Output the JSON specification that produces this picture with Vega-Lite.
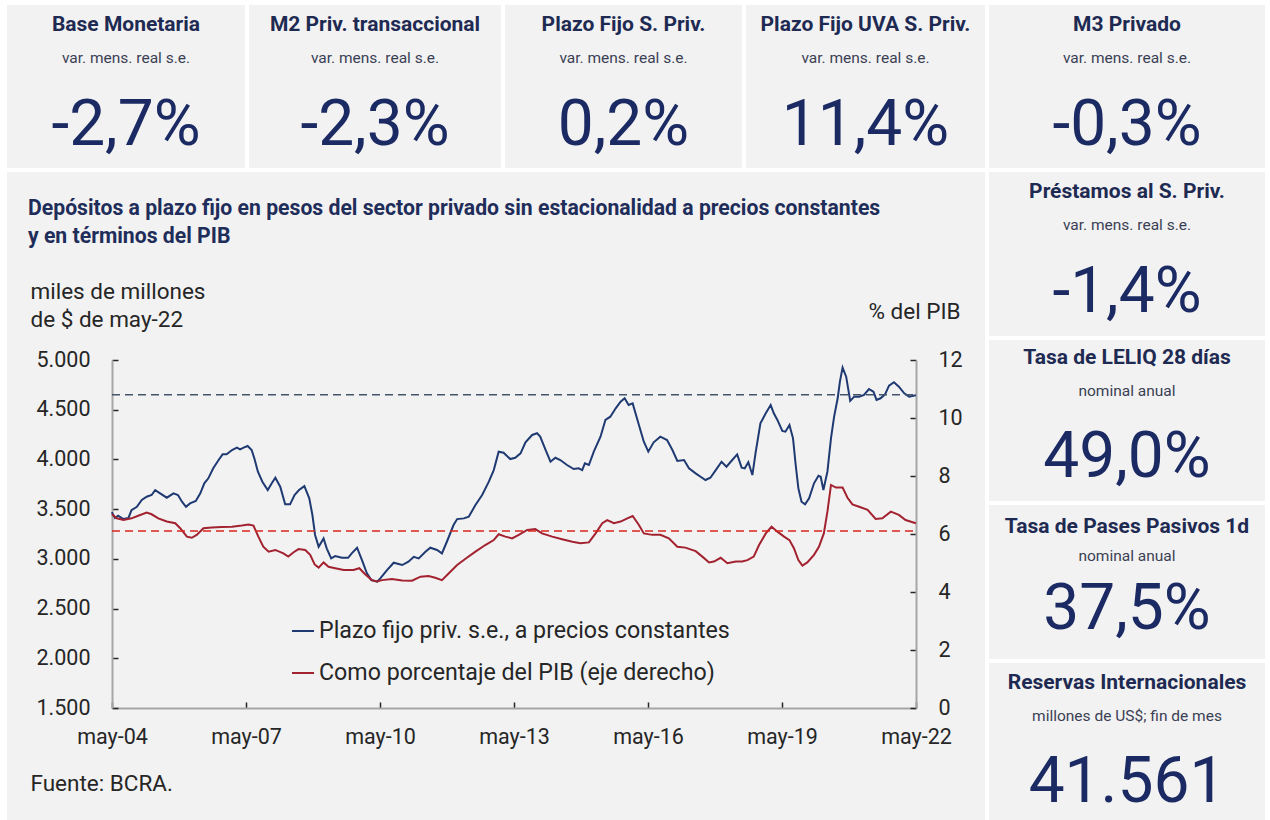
{
"$schema": "https://vega.github.io/schema/vega-lite/v6.json",
"background": "#ffffff",
"padding": {"left": 7, "top": 5, "right": 0, "bottom": 0},
"spacing": 4,
"config": {
  "font": "Roboto",
  "view": {"fill": "#f2f2f2", "stroke": null},
  "locale": {"number": {"decimal": ",", "thousands": ".", "grouping": [3], "currency": ["$", ""]}}
},
"datasets": {
  "pf": [
{"fecha":2004.33,"valor":3470},{"fecha":2004.40,"valor":3410},{"fecha":2004.47,"valor":3434},{"fecha":2004.59,"valor":3400},{"fecha":2004.70,"valor":3410},{"fecha":2004.77,"valor":3490},{"fecha":2004.89,"valor":3524},{"fecha":2005.00,"valor":3592},{"fecha":2005.11,"valor":3625},{"fecha":2005.22,"valor":3642},{"fecha":2005.30,"valor":3692},{"fecha":2005.41,"valor":3659},{"fecha":2005.56,"valor":3615},{"fecha":2005.71,"valor":3659},{"fecha":2005.81,"valor":3642},{"fecha":2005.90,"valor":3575},{"fecha":2005.99,"valor":3524},{"fecha":2006.08,"valor":3558},{"fecha":2006.21,"valor":3582},{"fecha":2006.31,"valor":3659},{"fecha":2006.40,"valor":3760},{"fecha":2006.49,"valor":3810},{"fecha":2006.60,"valor":3911},{"fecha":2006.72,"valor":3994},{"fecha":2006.81,"valor":4051},{"fecha":2006.90,"valor":4051},{"fecha":2007.02,"valor":4095},{"fecha":2007.13,"valor":4118},{"fecha":2007.20,"valor":4101},{"fecha":2007.28,"valor":4118},{"fecha":2007.37,"valor":4135},{"fecha":2007.46,"valor":4095},{"fecha":2007.52,"valor":4011},{"fecha":2007.60,"valor":3877},{"fecha":2007.70,"valor":3776},{"fecha":2007.82,"valor":3692},{"fecha":2007.91,"valor":3760},{"fecha":2007.99,"valor":3816},{"fecha":2008.10,"valor":3726},{"fecha":2008.21,"valor":3548},{"fecha":2008.32,"valor":3548},{"fecha":2008.42,"valor":3642},{"fecha":2008.52,"valor":3692},{"fecha":2008.64,"valor":3732},{"fecha":2008.75,"valor":3609},{"fecha":2008.82,"valor":3441},{"fecha":2008.88,"valor":3240},{"fecha":2008.96,"valor":3122},{"fecha":2009.07,"valor":3206},{"fecha":2009.14,"valor":3106},{"fecha":2009.24,"valor":3005},{"fecha":2009.33,"valor":3028},{"fecha":2009.48,"valor":3011},{"fecha":2009.62,"valor":3011},{"fecha":2009.70,"valor":3055},{"fecha":2009.82,"valor":3112},{"fecha":2009.93,"valor":2988},{"fecha":2010.04,"valor":2854},{"fecha":2010.14,"valor":2787},{"fecha":2010.27,"valor":2770},{"fecha":2010.34,"valor":2804},{"fecha":2010.49,"valor":2887},{"fecha":2010.64,"valor":2961},{"fecha":2010.83,"valor":2938},{"fecha":2010.97,"valor":2971},{"fecha":2011.09,"valor":3021},{"fecha":2011.20,"valor":3005},{"fecha":2011.35,"valor":3072},{"fecha":2011.46,"valor":3112},{"fecha":2011.61,"valor":3089},{"fecha":2011.72,"valor":3055},{"fecha":2011.83,"valor":3172},{"fecha":2011.98,"valor":3340},{"fecha":2012.06,"valor":3400},{"fecha":2012.21,"valor":3407},{"fecha":2012.32,"valor":3424},{"fecha":2012.47,"valor":3541},{"fecha":2012.62,"valor":3642},{"fecha":2012.77,"valor":3776},{"fecha":2012.88,"valor":3893},{"fecha":2012.99,"valor":4078},{"fecha":2013.10,"valor":4068},{"fecha":2013.25,"valor":4004},{"fecha":2013.36,"valor":4017},{"fecha":2013.48,"valor":4061},{"fecha":2013.59,"valor":4172},{"fecha":2013.74,"valor":4246},{"fecha":2013.85,"valor":4263},{"fecha":2013.92,"valor":4229},{"fecha":2014.04,"valor":4095},{"fecha":2014.15,"valor":3977},{"fecha":2014.26,"valor":4017},{"fecha":2014.37,"valor":3994},{"fecha":2014.52,"valor":3944},{"fecha":2014.67,"valor":3903},{"fecha":2014.78,"valor":3911},{"fecha":2014.86,"valor":3893},{"fecha":2014.92,"valor":3961},{"fecha":2015.01,"valor":3944},{"fecha":2015.12,"valor":4078},{"fecha":2015.27,"valor":4229},{"fecha":2015.38,"valor":4397},{"fecha":2015.49,"valor":4430},{"fecha":2015.61,"valor":4514},{"fecha":2015.72,"valor":4581},{"fecha":2015.81,"valor":4615},{"fecha":2015.90,"valor":4547},{"fecha":2015.99,"valor":4564},{"fecha":2016.13,"valor":4346},{"fecha":2016.24,"valor":4178},{"fecha":2016.34,"valor":4078},{"fecha":2016.46,"valor":4172},{"fecha":2016.61,"valor":4229},{"fecha":2016.76,"valor":4195},{"fecha":2016.88,"valor":4095},{"fecha":2016.99,"valor":3984},{"fecha":2017.14,"valor":3994},{"fecha":2017.25,"valor":3911},{"fecha":2017.40,"valor":3860},{"fecha":2017.51,"valor":3826},{"fecha":2017.62,"valor":3793},{"fecha":2017.73,"valor":3816},{"fecha":2017.85,"valor":3893},{"fecha":2017.98,"valor":3977},{"fecha":2018.09,"valor":3927},{"fecha":2018.20,"valor":3984},{"fecha":2018.33,"valor":4051},{"fecha":2018.43,"valor":3917},{"fecha":2018.50,"valor":3910},{"fecha":2018.58,"valor":3971},{"fecha":2018.67,"valor":3843},{"fecha":2018.74,"valor":4061},{"fecha":2018.85,"valor":4363},{"fecha":2018.97,"valor":4464},{"fecha":2019.08,"valor":4547},{"fecha":2019.15,"valor":4464},{"fecha":2019.23,"valor":4397},{"fecha":2019.34,"valor":4286},{"fecha":2019.41,"valor":4279},{"fecha":2019.50,"valor":4346},{"fecha":2019.58,"valor":4212},{"fecha":2019.64,"valor":3944},{"fecha":2019.70,"valor":3709},{"fecha":2019.77,"valor":3575},{"fecha":2019.85,"valor":3548},{"fecha":2019.94,"valor":3609},{"fecha":2020.05,"valor":3760},{"fecha":2020.15,"valor":3836},{"fecha":2020.20,"valor":3826},{"fecha":2020.26,"valor":3692},{"fecha":2020.35,"valor":3877},{"fecha":2020.43,"valor":4212},{"fecha":2020.50,"valor":4430},{"fecha":2020.58,"valor":4615},{"fecha":2020.63,"valor":4782},{"fecha":2020.69,"valor":4923},{"fecha":2020.77,"valor":4832},{"fecha":2020.86,"valor":4588},{"fecha":2020.95,"valor":4631},{"fecha":2021.06,"valor":4631},{"fecha":2021.17,"valor":4648},{"fecha":2021.28,"valor":4708},{"fecha":2021.38,"valor":4681},{"fecha":2021.45,"valor":4598},{"fecha":2021.54,"valor":4615},{"fecha":2021.64,"valor":4655},{"fecha":2021.73,"valor":4742},{"fecha":2021.84,"valor":4776},{"fecha":2021.95,"valor":4732},{"fecha":2022.07,"valor":4665},{"fecha":2022.18,"valor":4631},{"fecha":2022.33,"valor":4645}
  ],
  "pib": [
{"fecha":2004.33,"pct":6.68},{"fecha":2004.44,"pct":6.54},{"fecha":2004.59,"pct":6.48},{"fecha":2004.77,"pct":6.54},{"fecha":2004.92,"pct":6.63},{"fecha":2005.11,"pct":6.74},{"fecha":2005.22,"pct":6.68},{"fecha":2005.37,"pct":6.54},{"fecha":2005.56,"pct":6.43},{"fecha":2005.75,"pct":6.37},{"fecha":2005.86,"pct":6.20},{"fecha":2006.01,"pct":5.91},{"fecha":2006.12,"pct":5.87},{"fecha":2006.23,"pct":5.97},{"fecha":2006.38,"pct":6.20},{"fecha":2006.57,"pct":6.22},{"fecha":2006.79,"pct":6.24},{"fecha":2007.02,"pct":6.25},{"fecha":2007.24,"pct":6.29},{"fecha":2007.39,"pct":6.33},{"fecha":2007.50,"pct":6.29},{"fecha":2007.61,"pct":5.91},{"fecha":2007.72,"pct":5.56},{"fecha":2007.84,"pct":5.39},{"fecha":2007.99,"pct":5.45},{"fecha":2008.17,"pct":5.33},{"fecha":2008.28,"pct":5.22},{"fecha":2008.40,"pct":5.37},{"fecha":2008.51,"pct":5.48},{"fecha":2008.66,"pct":5.45},{"fecha":2008.77,"pct":5.28},{"fecha":2008.87,"pct":4.95},{"fecha":2008.96,"pct":4.84},{"fecha":2009.07,"pct":5.02},{"fecha":2009.18,"pct":4.87},{"fecha":2009.33,"pct":4.82},{"fecha":2009.52,"pct":4.76},{"fecha":2009.74,"pct":4.76},{"fecha":2009.87,"pct":4.82},{"fecha":2010.00,"pct":4.61},{"fecha":2010.15,"pct":4.41},{"fecha":2010.27,"pct":4.36},{"fecha":2010.38,"pct":4.41},{"fecha":2010.60,"pct":4.45},{"fecha":2010.83,"pct":4.40},{"fecha":2011.05,"pct":4.39},{"fecha":2011.24,"pct":4.53},{"fecha":2011.42,"pct":4.55},{"fecha":2011.57,"pct":4.49},{"fecha":2011.72,"pct":4.41},{"fecha":2011.87,"pct":4.64},{"fecha":2012.06,"pct":4.93},{"fecha":2012.24,"pct":5.14},{"fecha":2012.47,"pct":5.39},{"fecha":2012.69,"pct":5.62},{"fecha":2012.88,"pct":5.79},{"fecha":2012.99,"pct":5.99},{"fecha":2013.14,"pct":5.91},{"fecha":2013.29,"pct":5.85},{"fecha":2013.44,"pct":5.97},{"fecha":2013.63,"pct":6.14},{"fecha":2013.81,"pct":6.17},{"fecha":2013.96,"pct":6.02},{"fecha":2014.19,"pct":5.91},{"fecha":2014.41,"pct":5.82},{"fecha":2014.64,"pct":5.73},{"fecha":2014.82,"pct":5.68},{"fecha":2015.01,"pct":5.71},{"fecha":2015.16,"pct":6.02},{"fecha":2015.31,"pct":6.37},{"fecha":2015.42,"pct":6.48},{"fecha":2015.57,"pct":6.37},{"fecha":2015.72,"pct":6.43},{"fecha":2015.87,"pct":6.54},{"fecha":2015.99,"pct":6.62},{"fecha":2016.13,"pct":6.31},{"fecha":2016.24,"pct":6.02},{"fecha":2016.43,"pct":5.97},{"fecha":2016.61,"pct":5.97},{"fecha":2016.80,"pct":5.85},{"fecha":2016.99,"pct":5.56},{"fecha":2017.17,"pct":5.53},{"fecha":2017.40,"pct":5.41},{"fecha":2017.55,"pct":5.22},{"fecha":2017.70,"pct":5.02},{"fecha":2017.81,"pct":5.05},{"fecha":2017.96,"pct":5.18},{"fecha":2018.11,"pct":4.99},{"fecha":2018.30,"pct":5.05},{"fecha":2018.44,"pct":5.05},{"fecha":2018.56,"pct":5.10},{"fecha":2018.70,"pct":5.22},{"fecha":2018.82,"pct":5.62},{"fecha":2018.97,"pct":6.02},{"fecha":2019.10,"pct":6.25},{"fecha":2019.23,"pct":6.08},{"fecha":2019.38,"pct":5.91},{"fecha":2019.50,"pct":5.79},{"fecha":2019.60,"pct":5.51},{"fecha":2019.70,"pct":5.10},{"fecha":2019.79,"pct":4.91},{"fecha":2019.90,"pct":5.02},{"fecha":2020.05,"pct":5.28},{"fecha":2020.16,"pct":5.56},{"fecha":2020.27,"pct":6.02},{"fecha":2020.35,"pct":6.77},{"fecha":2020.43,"pct":7.69},{"fecha":2020.54,"pct":7.60},{"fecha":2020.69,"pct":7.60},{"fecha":2020.80,"pct":7.25},{"fecha":2020.91,"pct":7.02},{"fecha":2021.06,"pct":6.94},{"fecha":2021.25,"pct":6.83},{"fecha":2021.43,"pct":6.52},{"fecha":2021.58,"pct":6.54},{"fecha":2021.77,"pct":6.77},{"fecha":2021.95,"pct":6.66},{"fecha":2022.10,"pct":6.48},{"fecha":2022.33,"pct":6.37}
  ]
},
"vconcat": [
  {"spacing": 4, "hconcat": [
    {"width": 238, "height": 163, "data": {"values": [{"titulo": "Base Monetaria", "detalle": "var. mens. real s.e.", "valor": "-2,7%"}]},
     "layer": [
      {"mark": {"type": "rect", "color": "#f2f2f2"}, "encoding": {}},
      {"mark": {"type": "text", "fontWeight": "bold", "fontSize": 21, "color": "#1e2a52", "baseline": "alphabetic", "dy": -56}, "encoding": {"text": {"field": "titulo"}}},
      {"mark": {"type": "text", "fontSize": 15.5, "color": "#3b3f55", "baseline": "alphabetic", "dy": -24}, "encoding": {"text": {"field": "detalle"}}},
      {"mark": {"type": "text", "fontSize": 64, "color": "#1b2a63", "baseline": "alphabetic", "dy": 58.5}, "encoding": {"text": {"field": "valor"}}}]},
    {"width": 252, "height": 163, "data": {"values": [{"titulo": "M2 Priv. transaccional", "detalle": "var. mens. real s.e.", "valor": "-2,3%"}]},
     "layer": [
      {"mark": {"type": "rect", "color": "#f2f2f2"}, "encoding": {}},
      {"mark": {"type": "text", "fontWeight": "bold", "fontSize": 21, "color": "#1e2a52", "baseline": "alphabetic", "dy": -56}, "encoding": {"text": {"field": "titulo"}}},
      {"mark": {"type": "text", "fontSize": 15.5, "color": "#3b3f55", "baseline": "alphabetic", "dy": -24}, "encoding": {"text": {"field": "detalle"}}},
      {"mark": {"type": "text", "fontSize": 64, "color": "#1b2a63", "baseline": "alphabetic", "dy": 58.5}, "encoding": {"text": {"field": "valor"}}}]},
    {"width": 237, "height": 163, "data": {"values": [{"titulo": "Plazo Fijo S. Priv.", "detalle": "var. mens. real s.e.", "valor": "0,2%"}]},
     "layer": [
      {"mark": {"type": "rect", "color": "#f2f2f2"}, "encoding": {}},
      {"mark": {"type": "text", "fontWeight": "bold", "fontSize": 21, "color": "#1e2a52", "baseline": "alphabetic", "dy": -56}, "encoding": {"text": {"field": "titulo"}}},
      {"mark": {"type": "text", "fontSize": 15.5, "color": "#3b3f55", "baseline": "alphabetic", "dy": -24}, "encoding": {"text": {"field": "detalle"}}},
      {"mark": {"type": "text", "fontSize": 64, "color": "#1b2a63", "baseline": "alphabetic", "dy": 58.5}, "encoding": {"text": {"field": "valor"}}}]},
    {"width": 239, "height": 163, "data": {"values": [{"titulo": "Plazo Fijo UVA S. Priv.", "detalle": "var. mens. real s.e.", "valor": "11,4%"}]},
     "layer": [
      {"mark": {"type": "rect", "color": "#f2f2f2"}, "encoding": {}},
      {"mark": {"type": "text", "fontWeight": "bold", "fontSize": 21, "color": "#1e2a52", "baseline": "alphabetic", "dy": -56}, "encoding": {"text": {"field": "titulo"}}},
      {"mark": {"type": "text", "fontSize": 15.5, "color": "#3b3f55", "baseline": "alphabetic", "dy": -24}, "encoding": {"text": {"field": "detalle"}}},
      {"mark": {"type": "text", "fontSize": 64, "color": "#1b2a63", "baseline": "alphabetic", "dy": 58.5}, "encoding": {"text": {"field": "valor"}}}]},
    {"width": 276, "height": 163, "data": {"values": [{"titulo": "M3 Privado", "detalle": "var. mens. real s.e.", "valor": "-0,3%"}]},
     "layer": [
      {"mark": {"type": "rect", "color": "#f2f2f2"}, "encoding": {}},
      {"mark": {"type": "text", "fontWeight": "bold", "fontSize": 21, "color": "#1e2a52", "baseline": "alphabetic", "dy": -56}, "encoding": {"text": {"field": "titulo"}}},
      {"mark": {"type": "text", "fontSize": 15.5, "color": "#3b3f55", "baseline": "alphabetic", "dy": -24}, "encoding": {"text": {"field": "detalle"}}},
      {"mark": {"type": "text", "fontSize": 64, "color": "#1b2a63", "baseline": "alphabetic", "dy": 58.5}, "encoding": {"text": {"field": "valor"}}}]}
  ]},
  {"spacing": 4, "hconcat": [
    {"width": 978, "height": 648,
     "title": {"text": ["Depósitos a plazo fijo en pesos del sector privado sin estacionalidad a precios constantes", "y en términos del PIB"], "anchor": "start", "frame": "group", "orient": "top", "offset": -75, "dx": 21, "fontSize": 21.2, "fontWeight": "bold", "color": "#1f2d5a", "lineHeight": 28},
     "layer": [
      {"layer": [
        {"data": {"name": "pf"}, "mark": {"type": "line", "strokeWidth": 2},
         "encoding": {
          "x": {"field": "fecha", "type": "quantitative",
                "scale": {"domain": [2004.3333, 2022.3333], "range": [105, 909], "zero": false, "nice": false},
                "axis": {"orient": "bottom", "offset": -112, "values": [2004.3333, 2007.3333, 2010.3333, 2013.3333, 2016.3333, 2019.3333, 2022.3333],
                         "labelExpr": "'may-' + format(floor(datum.value) % 100, '02d')", "grid": false,
                         "domainColor": "#a6a6a6", "domainWidth": 2, "tickColor": "#262626", "tickSize": -6, "tickWidth": 1.5,
                         "labelFontSize": 21.5, "labelColor": "#262626", "labelPadding": 24, "labelFlush": false, "labelOverlap": false,
                         "title": "Fuente: BCRA.", "titleX": 23, "titleY": 82, "titleAlign": "left", "titleAnchor": "start", "titleBaseline": "alphabetic",
                         "titleFontSize": 22.5, "titleFontWeight": "normal", "titleColor": "#262626"}},
          "y": {"field": "valor", "type": "quantitative",
                "scale": {"domain": [1500, 5000], "range": [536, 188], "zero": false, "nice": false},
                "axis": {"orient": "left", "offset": -105, "values": [1500, 2000, 2500, 3000, 3500, 4000, 4500, 5000], "format": ",d", "grid": false,
                         "domainColor": "#a6a6a6", "domainWidth": 2, "tickColor": "#262626", "tickSize": -6, "tickWidth": 1.5,
                         "labelFontSize": 21.5, "labelColor": "#262626", "labelPadding": 28,
                         "title": ["miles de millones", "de $ de may-22"], "titleAngle": 0, "titleAlign": "left", "titleBaseline": "alphabetic",
                         "titleX": -82, "titleY": 126, "titleFontSize": 22.5, "titleFontWeight": "normal", "titleColor": "#262626", "titleLineHeight": 28}},
          "color": {"datum": "Plazo fijo priv. s.e., a precios constantes",
                    "scale": {"domain": ["Plazo fijo priv. s.e., a precios constantes", "Como porcentaje del PIB (eje derecho)"], "range": ["#1f3a72", "#a3222f"]},
                    "legend": {"orient": "none", "legendX": 284, "legendY": 614, "title": null, "symbolType": "stroke", "symbolSize": 484, "symbolStrokeWidth": 2,
                               "labelFontSize": 23.2, "labelColor": "#262626", "labelOffset": 4, "rowPadding": 18, "padding": 0, "labelLimit": 0}}
         }},
        {"data": {"values": [{"desde": 2004.3333, "hasta": 2022.3333, "nivel": 4650}]},
         "mark": {"type": "rule", "color": "#44546a", "strokeWidth": 1.5, "strokeDash": [8, 5]},
         "encoding": {"x": {"field": "desde", "type": "quantitative"}, "x2": {"field": "hasta"}, "y": {"field": "nivel", "type": "quantitative"}}}
      ]},
      {"layer": [
        {"data": {"name": "pib"}, "mark": {"type": "line", "strokeWidth": 2},
         "encoding": {
          "x": {"field": "fecha", "type": "quantitative"},
          "y": {"field": "pct", "type": "quantitative",
                "scale": {"domain": [0, 12], "range": [536, 188], "zero": false, "nice": false},
                "axis": {"orient": "right", "offset": -69, "values": [0, 2, 4, 6, 8, 10, 12], "format": "d", "grid": false,
                         "domainColor": "#a6a6a6", "domainWidth": 2, "tickColor": "#262626", "tickSize": -6, "tickWidth": 1.5,
                         "labelFontSize": 21.5, "labelColor": "#262626", "labelPadding": 28,
                         "title": "% del PIB", "titleAngle": 0, "titleAlign": "center", "titleBaseline": "alphabetic",
                         "titleX": -2, "titleY": 146, "titleFontSize": 22.5, "titleFontWeight": "normal", "titleColor": "#262626"}},
          "color": {"datum": "Como porcentaje del PIB (eje derecho)"}
         }},
        {"data": {"values": [{"desde": 2004.3333, "hasta": 2022.3333, "nivel": 6.1}]},
         "mark": {"type": "rule", "color": "#d9261c", "strokeWidth": 1.5, "strokeDash": [8, 5]},
         "encoding": {"x": {"field": "desde", "type": "quantitative"}, "x2": {"field": "hasta"}, "y": {"field": "nivel", "type": "quantitative"}}}
      ]}
     ],
     "resolve": {"scale": {"y": "independent"}, "axis": {"y": "independent"}}
    },
    {"spacing": 4, "vconcat": [
      {"width": 276, "height": 164, "data": {"values": [{"titulo": "Préstamos al S. Priv.", "detalle": "var. mens. real s.e.", "valor": "-1,4%"}]},
       "layer": [
        {"mark": {"type": "rect", "color": "#f2f2f2"}, "encoding": {}},
        {"mark": {"type": "text", "fontWeight": "bold", "fontSize": 21, "color": "#1e2a52", "baseline": "alphabetic", "dy": -56}, "encoding": {"text": {"field": "titulo"}}},
        {"mark": {"type": "text", "fontSize": 15.5, "color": "#3b3f55", "baseline": "alphabetic", "dy": -24}, "encoding": {"text": {"field": "detalle"}}},
        {"mark": {"type": "text", "fontSize": 64, "color": "#1b2a63", "baseline": "alphabetic", "dy": 58}, "encoding": {"text": {"field": "valor"}}}]},
      {"width": 276, "height": 161, "data": {"values": [{"titulo": "Tasa de LELIQ 28 días", "detalle": "nominal anual", "valor": "49,0%"}]},
       "layer": [
        {"mark": {"type": "rect", "color": "#f2f2f2"}, "encoding": {}},
        {"mark": {"type": "text", "fontWeight": "bold", "fontSize": 21, "color": "#1e2a52", "baseline": "alphabetic", "dy": -56.5}, "encoding": {"text": {"field": "titulo"}}},
        {"mark": {"type": "text", "fontSize": 15.5, "color": "#3b3f55", "baseline": "alphabetic", "dy": -24.5}, "encoding": {"text": {"field": "detalle"}}},
        {"mark": {"type": "text", "fontSize": 64, "color": "#1b2a63", "baseline": "alphabetic", "dy": 56}, "encoding": {"text": {"field": "valor"}}}]},
      {"width": 276, "height": 154, "data": {"values": [{"titulo": "Tasa de Pases Pasivos 1d", "detalle": "nominal anual", "valor": "37,5%"}]},
       "layer": [
        {"mark": {"type": "rect", "color": "#f2f2f2"}, "encoding": {}},
        {"mark": {"type": "text", "fontWeight": "bold", "fontSize": 21, "color": "#1e2a52", "baseline": "alphabetic", "dy": -49.3}, "encoding": {"text": {"field": "titulo"}}},
        {"mark": {"type": "text", "fontSize": 15.5, "color": "#3b3f55", "baseline": "alphabetic", "dy": -21.3}, "encoding": {"text": {"field": "detalle"}}},
        {"mark": {"type": "text", "fontSize": 64, "color": "#1b2a63", "baseline": "alphabetic", "dy": 47.3}, "encoding": {"text": {"field": "valor"}}}]},
      {"width": 276, "height": 157, "data": {"values": [{"titulo": "Reservas Internacionales", "detalle": "millones de US$; fin de mes", "valor": "41.561"}]},
       "layer": [
        {"mark": {"type": "rect", "color": "#f2f2f2"}, "encoding": {}},
        {"mark": {"type": "text", "fontWeight": "bold", "fontSize": 21, "color": "#1e2a52", "baseline": "alphabetic", "dy": -52.5}, "encoding": {"text": {"field": "titulo"}}},
        {"mark": {"type": "text", "fontSize": 15.5, "color": "#3b3f55", "baseline": "alphabetic", "dy": -20.5}, "encoding": {"text": {"field": "detalle"}}},
        {"mark": {"type": "text", "fontSize": 64, "color": "#1b2a63", "baseline": "alphabetic", "dy": 60}, "encoding": {"text": {"field": "valor"}}}]}
    ]}
  ]}
]
}
